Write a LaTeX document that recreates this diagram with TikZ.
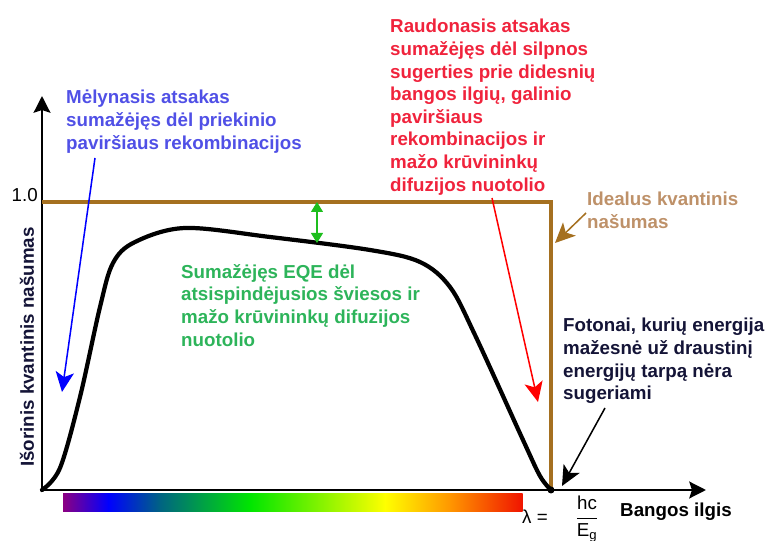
\documentclass[tikz,border=0pt]{standalone}
\usepackage{fontspec}
\setmainfont{Liberation Sans}
\usetikzlibrary{arrows.meta}
\usepackage{xcolor}

\definecolor{ideal}{RGB}{165,112,32}
\definecolor{idealtxt}{RGB}{190,145,105}
\definecolor{bluetxt}{RGB}{80,80,230}
\definecolor{redtxt}{RGB}{240,35,60}
\definecolor{greentxt}{RGB}{45,180,90}
\definecolor{greenarr}{RGB}{30,190,30}
\definecolor{navytxt}{RGB}{20,20,55}
\definecolor{specpurple}{RGB}{140,0,130}
\definecolor{specblue}{RGB}{0,0,255}
\definecolor{specteal}{RGB}{0,100,130}
\definecolor{specgreen}{RGB}{0,230,0}
\definecolor{specyellow}{RGB}{255,255,0}
\definecolor{specorange}{RGB}{255,150,0}
\definecolor{specred}{RGB}{240,20,0}

\begin{document}
\begin{tikzpicture}[
            x=0.03cm, y=-0.03cm,
            every node/.style={inner sep=0pt, font=\fontsize{16}{19.3}\selectfont\bfseries},
            note/.style={anchor=north west, align=left},
            plain/.style={font=\fontsize{16}{19.3}\selectfont},
            axis/.style={line width=2.4pt, line join=miter, {Stealth[length=0.5cm, width=0.5cm, inset=0.08cm]}-{Stealth[length=0.5cm, width=0.5cm, inset=0.08cm]}},
            arrow/.style={line width=1.3pt, -{Stealth[length=0.6cm, width=0.55cm, inset=0.15cm]}},
            gap/.style={line width=1pt, greenarr, {Triangle[length=0.3cm, width=0.36cm]}-{Triangle[length=0.3cm, width=0.36cm]}}
        ]
            \useasboundingbox (0,0) rectangle (773,541);

            % Spectrum bar
            \foreach \a/\b/\ca/\cb in {63/108/specpurple/specblue, 108/160/specblue/specteal,
                                       160/250/specteal/specgreen, 250/385/specgreen/specyellow,
                                       385/450/specyellow/specorange, 450/522/specorange/specred}
                \shade[left color=\ca, right color=\cb] (\a,494) rectangle ({\b+0.6},511);

            % Axes
            \coordinate (o) at (42,490);
            \coordinate (ytop) at (42,96);
            \coordinate (xend) at (706,490);
            \draw[axis] (ytop) -- (o) -- (xend);

            % Ideal EQE
            \coordinate (one) at (42,202);
            \coordinate (edge) at (551,202);
            \coordinate (eg) at (551,490);
            \draw[ideal, line width=2.6pt] (one) -- (edge) -- (eg);

            % Measured EQE
            \draw[line width=3.6pt, line cap=round, line join=round] plot[smooth, tension=0.55] coordinates {
                (42,490) (60,468) (80,397) (100,307) (113,263) (135,242) (185,228)
                (270,237) (370,250) (420,262) (450,287) (475,335) (523,440) (540,476) (551,490)};
            \fill (eg) circle[radius=3.5];

            % Axis labels
            \node[plain, anchor=east] (onelab) at (38,195) {1.0};
            \node[rotate=90, text=navytxt] (ylab) at (27,347) {Išorinis kvantinis našumas};
            \node[anchor=west] (xlab) at (620,512) {Bangos ilgis};
            \node[plain] (lam) at (535,517) {λ =};
            \node[plain] (frac) at (587,519) {$\displaystyle\frac{\mbox{hc}}{\mbox{E\textsubscript{g}}}$};

            % Notes
            \node[note, text=bluetxt] (blue) at (66,90) {Mėlynasis atsakas\\sumažėjęs dėl priekinio\\paviršiaus rekombinacijos};
            \node[note, text=redtxt] (red) at (390,19) {Raudonasis atsakas\\sumažėjęs dėl silpnos\\sugerties prie didesnių\\bangos ilgių, galinio\\paviršiaus\\rekombinacijos ir\\mažo krūvininkų\\difuzijos nuotolio};
            \node[note, text=greentxt] (green) at (181,264) {Sumažėjęs EQE dėl\\atsispindėjusios šviesos ir\\mažo krūvininkų difuzijos\\nuotolio};
            \node[note, text=idealtxt] (idealnote) at (587,192) {Idealus kvantinis\\našumas};
            \node[note, text=navytxt] (photon) at (563,318) {Fotonai, kurių energija\\mažesnė už draustinį\\energijų tarpą nėra\\sugeriami};

            % Arrows from notes
            \coordinate (bluefrom) at (95,158);
            \coordinate (bluetip) at (62,392);
            \coordinate (redfrom) at (492,198);
            \coordinate (redtip) at (538,402);
            \coordinate (idealfrom) at (586,213);
            \coordinate (idealtip) at (555,243);
            \coordinate (photonfrom) at (605,408);
            \coordinate (photontip) at (562,486);
            \coordinate (curvetop) at (317,243);
            \draw[arrow, blue] (bluefrom) -- (bluetip);
            \draw[arrow, red] (redfrom) -- (redtip);
            \draw[arrow, ideal] (idealfrom) -- (idealtip);
            \draw[arrow, black] (photonfrom) -- (photontip);
            \draw[gap] (one -| curvetop) -- (curvetop);

        \end{tikzpicture}
\end{document}
